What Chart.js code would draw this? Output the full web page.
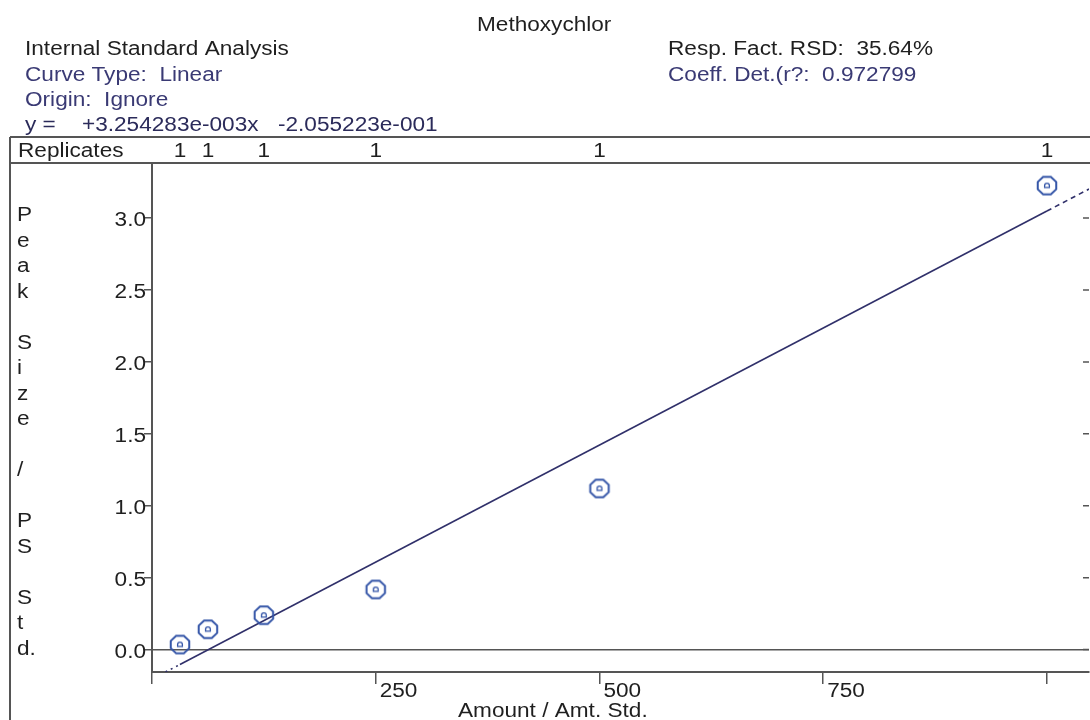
<!DOCTYPE html>
<html lang="en">
<head>
    <meta charset="UTF-8">
    <title>Methoxychlor calibration</title>
    <style>
        html, body { margin: 0; padding: 0; background: #fff; overflow: hidden; }
        .wrap { position: absolute; left: 0; top: 0; width: 1100px; height: 720px; }
    </style>
</head>
<body>
    <div class="wrap"><canvas id="calChart"></canvas></div>

    <script src="https://cdn.jsdelivr.net/npm/chart.js"></script>
    <script>
        // calibration points (amount / amt. std. vs peak size / PS std.)
        const amounts = [31.25, 62.5, 125, 250, 500, 1000];
        const responses = [0.035, 0.141, 0.239, 0.418, 1.12, 3.226];
        const replicates = [1, 1, 1, 1, 1, 1];

        // fitted line, start / end of calibrated range / end
        const fitX = [15, 31.25, 1000, 1047];
        const fitY = [-0.156, -0.104, 3.049, 3.202];

        const xTickValues = [0, 250, 500, 750, 1000];
        const xTickLabels = ['', '250', '500', '750', ''];
        const yTickValues = [0, 0.5, 1, 1.5, 2, 2.5, 3];
        const yTitle = ['P', 'e', 'a', 'k', '', 'S', 'i', 'z', 'e', '', '/', '', 'P', 'S', '', 'S', 't', 'd.'];

        const titleText = 'Methoxychlor';
        const leftHeader = ['Internal Standard Analysis', 'Curve Type:  Linear', 'Origin:  Ignore'];
        const eqParts = ['y =', '+3.254283e-003x', '-2.055223e-001'];
        const rightHeader = ['Resp. Fact. RSD:  35.64%', 'Coeff. Det.(r?:  0.972799'];

        const FONT = '20px "Liberation Sans", Arial, sans-serif';
        const SX = 1.13;          // the source font is a bit wider than Arial
        const INK = '#1f1f1f';
        const NAVY = '#3a3a74';
        const AXIS = '#555555';
        const MARK = '#3556a8';

        function txt(ctx, s, x, y, color, align) {
            ctx.save();
            ctx.fillStyle = color;
            ctx.font = FONT;
            ctx.textAlign = align || 'left';
            ctx.textBaseline = 'alphabetic';
            ctx.translate(x, y);
            ctx.scale(SX, 1);
            ctx.fillText(s, 0, 0);
            ctx.restore();
        }

        // octagon marker with the little "D" inside
        function makeMarker() {
            const c = document.createElement('canvas');
            c.width = 26; c.height = 26;
            const g = c.getContext('2d');
            g.strokeStyle = MARK;
            g.lineWidth = 2;
            g.beginPath();
            for (let i = 0; i < 8; i++) {
                const a = Math.PI / 8 + i * Math.PI / 4;
                const px = 13 + 10 * Math.cos(a), py = 13 + 9.5 * Math.sin(a);
                if (i === 0) g.moveTo(px, py); else g.lineTo(px, py);
            }
            g.closePath();
            g.stroke();
            g.lineWidth = 1.3;
            g.beginPath();
            g.arc(13, 13, 2.4, Math.PI, 0);
            g.lineTo(15.4, 14.9);
            g.lineTo(10.6, 14.9);
            g.closePath();
            g.stroke();
            return c;
        }

        const decorPlugin = {
            id: 'decor',
            afterDraw(chart) {
                const ctx = chart.ctx;
                const a = chart.chartArea;
                const xs = chart.scales.x, ys = chart.scales.y;
                ctx.save();

                // frame + replicates row
                ctx.strokeStyle = AXIS;
                ctx.lineWidth = 2;
                ctx.beginPath();
                ctx.moveTo(10, 137); ctx.lineTo(chart.width, 137);
                ctx.moveTo(10, 137); ctx.lineTo(10, chart.height);
                ctx.moveTo(10, a.top); ctx.lineTo(chart.width, a.top);
                ctx.stroke();

                // small inward ticks on the right edge
                ctx.lineWidth = 1.5;
                ctx.beginPath();
                ys.ticks.forEach(t => {
                    const py = ys.getPixelForValue(t.value);
                    ctx.moveTo(a.right - 6, py); ctx.lineTo(a.right, py);
                });
                ctx.stroke();
                ctx.restore();

                // header
                txt(ctx, titleText, 477, 31, INK);
                txt(ctx, leftHeader[0], 25, 55, INK);
                txt(ctx, leftHeader[1], 25, 81, NAVY);
                txt(ctx, leftHeader[2], 25, 106, NAVY);
                txt(ctx, eqParts[0], 25, 131, '#2b2b5a');
                txt(ctx, eqParts[1], 82, 131, '#2b2b5a');
                txt(ctx, eqParts[2], 278, 131, '#2b2b5a');
                txt(ctx, rightHeader[0], 668, 55, INK);
                txt(ctx, rightHeader[1], 668, 81, NAVY);

                // replicates row
                txt(ctx, 'Replicates', 18, 157, INK);
                amounts.forEach((v, i) => {
                    txt(ctx, String(replicates[i]), xs.getPixelForValue(v), 157, INK, 'center');
                });

                // tick labels
                ys.ticks.forEach(t => {
                    txt(ctx, t.value.toFixed(1), a.left - 6, ys.getPixelForValue(t.value) + 8, INK, 'right');
                });
                xTickValues.forEach((v, i) => {
                    if (xTickLabels[i]) txt(ctx, xTickLabels[i], xs.getPixelForValue(v) + 4, 697, INK);
                });

                // axis titles
                yTitle.forEach((s, i) => {
                    if (s) txt(ctx, s, 17, 221 + 25.5 * i, INK);
                });
                txt(ctx, 'Amount / Amt. Std.', 458, 717, INK);
            }
        };

        const ctx = document.getElementById('calChart').getContext('2d');
        const calChart = new Chart(ctx, {
            type: 'scatter',
            data: {
                datasets: [{
                    label: 'Calibration',
                    data: amounts.map((v, i) => ({ x: v, y: responses[i] })),
                    pointStyle: makeMarker(),
                    pointRadius: 10,
                    pointHoverRadius: 10
                }, {
                    label: 'Fit',
                    type: 'line',
                    data: fitX.map((v, i) => ({ x: v, y: fitY[i] })),
                    borderColor: '#30306a',
                    borderWidth: 1.6,
                    pointRadius: 0,
                    fill: false,
                    segment: {
                        borderDash: c => c.p0DataIndex === 0 ? [2, 4] : (c.p0DataIndex === 2 ? [5, 4] : undefined)
                    }
                }]
            },
            options: {
                responsive: true,
                maintainAspectRatio: false,
                animation: false,
                events: [],
                layout: { padding: { left: 0, top: 163, right: 5, bottom: 0 } },
                plugins: {
                    legend: { display: false },
                    tooltip: { enabled: false }
                },
                scales: {
                    x: {
                        type: 'linear',
                        min: 0,
                        max: 1047,
                        border: { color: AXIS, width: 2 },
                        grid: { drawOnChartArea: false, tickLength: 12, color: AXIS, lineWidth: 1.5 },
                        ticks: { display: false },
                        afterBuildTicks(s) { s.ticks = xTickValues.map(v => ({ value: v })); },
                        afterFit(s) { s.height = 48; }
                    },
                    y: {
                        min: -0.156,
                        max: 3.383,
                        border: { color: AXIS, width: 2 },
                        grid: {
                            color: c => c.tick && c.tick.value === 0 ? AXIS : 'rgba(0,0,0,0)',
                            tickColor: AXIS,
                            tickLength: 8,
                            lineWidth: 1.5
                        },
                        ticks: { display: false },
                        afterBuildTicks(s) { s.ticks = yTickValues.map(v => ({ value: v })); },
                        afterFit(s) { s.width = 152; }
                    }
                }
            },
            plugins: [decorPlugin]
        });
    </script>
</body>
</html>
